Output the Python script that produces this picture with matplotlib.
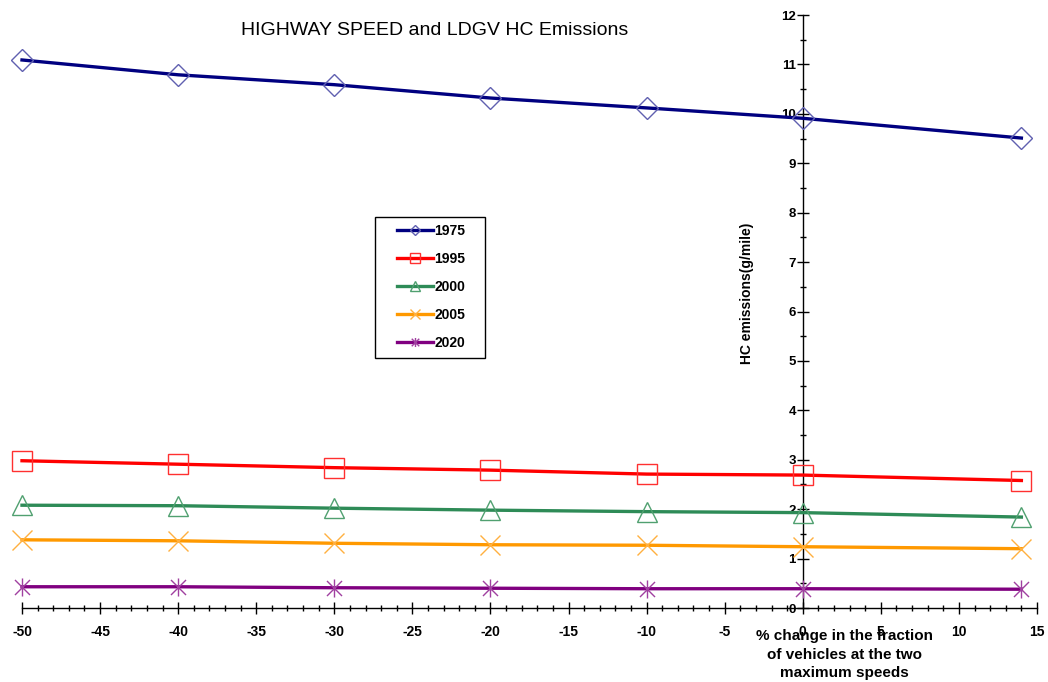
import numpy as np
import matplotlib
matplotlib.use('Agg')
import matplotlib.pyplot as plt
from matplotlib.path import Path
from matplotlib.patches import Rectangle
from matplotlib.ticker import MultipleLocator

plt.rcParams['font.family'] = ['Liberation Sans', 'DejaVu Sans']
plt.rcParams['axes.unicode_minus'] = False

# data
x = [-50, -40, -30, -20, -10, 0, 14]
hc_1975 = [11.09, 10.79, 10.59, 10.32, 10.12, 9.91, 9.51]
hc_1995 = [2.98, 2.91, 2.84, 2.79, 2.71, 2.69, 2.58]
hc_2000 = [2.08, 2.07, 2.02, 1.98, 1.95, 1.93, 1.84]
hc_2005 = [1.38, 1.36, 1.31, 1.28, 1.27, 1.24, 1.20]
hc_2020 = [0.43, 0.43, 0.41, 0.40, 0.39, 0.39, 0.38]
years = ['1975', '1995', '2000', '2005', '2020']

star = Path([(-1, -1), (1, 1), (-1, 1), (1, -1), (0, -1.2), (0, 1.2)],
            [Path.MOVETO, Path.LINETO, Path.MOVETO, Path.LINETO, Path.MOVETO, Path.LINETO])

styles = [
    (hc_1975, '#000080', '#6060b0', 'D', 11),
    (hc_1995, '#ff0000', '#ff3030', 's', 14),
    (hc_2000, '#2e8b57', '#50a070', '^', 15),
    (hc_2005, '#ff9900', '#ffb040', 'x', 14),
    (hc_2020, '#800080', '#a040a0', star, 13),
]

fig = plt.figure(figsize=(10.48, 6.82), dpi=100)
ax = fig.add_axes([0.021, 0.1085, 0.9685, 0.8695])

for (vals, col, mcol, mk, ms), lab in zip(styles, years):
    ax.plot(x, vals, color=col, lw=2.4, marker=mk, ms=ms, mfc='none',
            mec=mcol, mew=1.0, label=lab, clip_on=False, zorder=3)

ax.set_xlim(-50, 15); ax.set_ylim(0, 12)
ax.spines['top'].set_visible(False); ax.spines['right'].set_visible(False)
ax.spines['left'].set_position(('data', 0))
ax.spines['bottom'].set_position(('data', 0))
for s in ('left', 'bottom'):
    ax.spines[s].set_linewidth(1.0); ax.spines[s].set_color('black')
ax.xaxis.set_major_locator(MultipleLocator(5)); ax.xaxis.set_minor_locator(MultipleLocator(1))
ax.yaxis.set_major_locator(MultipleLocator(1)); ax.yaxis.set_minor_locator(MultipleLocator(0.5))
ax.tick_params(which='major', direction='inout', length=8, width=1, labelsize=10, pad=8)
ax.tick_params(which='minor', direction='inout', length=5, width=1)
ax.tick_params(axis='y', which='major', labelsize=9.5, pad=1)
for lb in ax.get_xticklabels() + ax.get_yticklabels():
    lb.set_fontweight('bold')

ax.text(0.415, 0.955, 'HIGHWAY SPEED and LDGV HC Emissions', transform=fig.transFigure,
        ha='center', va='center', fontsize=14)
ax.text(0.7125, 0.57, 'HC emissions(g/mile)', transform=fig.transFigure, rotation=90,
        ha='center', va='center', fontsize=10, fontweight='bold')
ax.text(0.806, 0.077, '% change in the fraction\nof vehicles at the two\nmaximum speeds',
        transform=fig.transFigure, ha='center', va='top', fontsize=11, fontweight='bold',
        linespacing=1.4)

# legend without its own frame; box drawn wider like the original
leg = ax.legend(loc='upper left', bbox_to_anchor=(0.3626, 0.659), borderaxespad=0,
                frameon=False, markerscale=0.5, handlelength=2.6, labelspacing=1.0,
                prop={'weight': 'bold', 'size': 10}, borderpad=0.5, handletextpad=0.1)
fig.patches.append(Rectangle((0.3578, 0.4751), 0.105, 0.2067, transform=fig.transFigure,
                             fill=False, edgecolor='black', lw=1.0))

fig.savefig('out.png', dpi=100)
